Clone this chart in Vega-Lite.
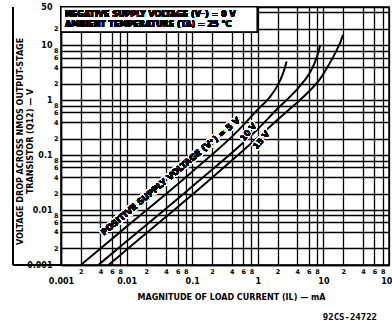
{
  "$schema": "https://vega.github.io/schema/vega-lite/v6.json",
  "width": 328,
  "height": 258,
  "autosize": {"type": "none"},
  "padding": {"left": 61, "top": 7, "right": 3, "bottom": 56},
  "background": "white",
  "title": {"text": "92CS-24722", "orient": "bottom", "anchor": "end", "frame": "group", "font": "DejaVu Sans Mono", "fontSize": 9, "fontWeight": "bold", "color": "black", "offset": 12, "dx": -12},
  "config": {
    "font": "DejaVu Sans",
    "view": {"stroke": "black", "strokeWidth": 1.5},
    "axis": {
      "grid": true, "gridColor": "black", "gridWidth": 1.3,
      "ticks": false,
      "domainColor": "black", "domainWidth": 1.5,
      "labelFont": "DejaVu Sans", "labelFontWeight": "bold", "labelColor": "black",
      "labelOverlap": false, "labelFlush": false, "labelBound": false,
      "titleFont": "DejaVu Sans", "titleFontWeight": "bold", "titleColor": "black", "titleFontSize": 8
    }
  },
  "data": {"values": [
    {"series": "5 V", "current": 0.002, "voltage": 0.001},
    {"series": "5 V", "current": 0.01, "voltage": 0.005},
    {"series": "5 V", "current": 0.1, "voltage": 0.05},
    {"series": "5 V", "current": 0.5, "voltage": 0.28},
    {"series": "5 V", "current": 1.0, "voltage": 0.68},
    {"series": "5 V", "current": 1.5, "voltage": 1.12},
    {"series": "5 V", "current": 2.0, "voltage": 1.85},
    {"series": "5 V", "current": 2.4, "voltage": 3.0},
    {"series": "5 V", "current": 2.6, "voltage": 4.0},
    {"series": "5 V", "current": 2.75, "voltage": 5.1},
    {"series": "10 V", "current": 0.0037, "voltage": 0.001},
    {"series": "10 V", "current": 0.01, "voltage": 0.0027},
    {"series": "10 V", "current": 0.1, "voltage": 0.027},
    {"series": "10 V", "current": 1.0, "voltage": 0.3},
    {"series": "10 V", "current": 2.0, "voltage": 0.7},
    {"series": "10 V", "current": 3.0, "voltage": 1.12},
    {"series": "10 V", "current": 4.0, "voltage": 1.6},
    {"series": "10 V", "current": 5.0, "voltage": 2.2},
    {"series": "10 V", "current": 6.25, "voltage": 3.2},
    {"series": "10 V", "current": 7.3, "voltage": 4.7},
    {"series": "10 V", "current": 8.0, "voltage": 6.3},
    {"series": "10 V", "current": 8.5, "voltage": 8.0},
    {"series": "10 V", "current": 8.9, "voltage": 10.0},
    {"series": "15 V", "current": 0.0053, "voltage": 0.001},
    {"series": "15 V", "current": 0.01, "voltage": 0.0019},
    {"series": "15 V", "current": 0.1, "voltage": 0.019},
    {"series": "15 V", "current": 1.0, "voltage": 0.21},
    {"series": "15 V", "current": 2.0, "voltage": 0.44},
    {"series": "15 V", "current": 3.1, "voltage": 0.7},
    {"series": "15 V", "current": 5.5, "voltage": 1.3},
    {"series": "15 V", "current": 8.9, "voltage": 2.45},
    {"series": "15 V", "current": 11.5, "voltage": 4.0},
    {"series": "15 V", "current": 13.4, "voltage": 5.5},
    {"series": "15 V", "current": 16, "voltage": 8.3},
    {"series": "15 V", "current": 18, "voltage": 11.1},
    {"series": "15 V", "current": 19.8, "voltage": 15.5}
  ]},
  "layer": [
    {
      "mark": {"type": "line", "color": "black", "strokeWidth": 2, "interpolate": "monotone"},
      "encoding": {
        "x": {
          "field": "current", "type": "quantitative",
          "scale": {"type": "log", "domain": [0.001, 100]},
          "axis": {
            "values": [0.001,0.002,0.004,0.006,0.008,0.01,0.02,0.04,0.06,0.08,0.1,0.2,0.4,0.6,0.8,1,2,4,6,8,10,20,40,60,80,100],
            "labelExpr": "abs(log(datum.value)/LN10 - round(log(datum.value)/LN10)) < 0.001 ? format(datum.value, '~g') : '' + round(datum.value / pow(10, floor(log(datum.value)/LN10 + 0.000001)))",
            "labelFontSize": {"condition": {"test": "abs(log(datum.value)/LN10 - round(log(datum.value)/LN10)) < 0.001", "value": 8}, "value": 6.5},
            "labelPadding": {"condition": {"test": "abs(log(datum.value)/LN10 - round(log(datum.value)/LN10)) < 0.001", "value": 12}, "value": 3},
            "labelBaseline": "top",
            "title": "MAGNITUDE OF LOAD CURRENT (IL) — mA",
            "titleX": 170, "titleY": 32, "titleAlign": "center", "titleBaseline": "middle"
          }
        },
        "y": {
          "field": "voltage", "type": "quantitative",
          "scale": {"type": "log", "domain": [0.001, 50]},
          "axis": {
            "values": [0.001,0.002,0.004,0.006,0.008,0.01,0.02,0.04,0.06,0.08,0.1,0.2,0.4,0.6,0.8,1,2,4,6,8,10,20,40,50],
            "labelExpr": "datum.value == 40 ? '' : datum.value == 50 ? '50' : abs(log(datum.value)/LN10 - round(log(datum.value)/LN10)) < 0.001 ? format(datum.value, '~g') : '' + round(datum.value / pow(10, floor(log(datum.value)/LN10 + 0.000001)))",
            "labelFontSize": {"condition": {"test": "datum.value == 50 || abs(log(datum.value)/LN10 - round(log(datum.value)/LN10)) < 0.001", "value": 8}, "value": 6.5},
            "labelPadding": {"condition": {"test": "datum.value == 50 || abs(log(datum.value)/LN10 - round(log(datum.value)/LN10)) < 0.001", "value": 9}, "value": 3},
            "labelAlign": "right", "labelBaseline": "middle",
            "title": ["VOLTAGE DROP ACROSS NMOS OUTPUT-STAGE", "TRANSISTOR (Q12) — V"],
            "titleX": -45, "titleY": 134, "titleAngle": 270, "titleAlign": "center", "titleBaseline": "top", "titleLineHeight": 10
          }
        },
        "detail": {"field": "series"}
      }
    },
    {
      "mark": {"type": "rule", "color": "black", "strokeWidth": 1.5},
      "encoding": {
        "x": {"datum": 0.0001855, "type": "quantitative", "scale": {"type": "log", "domain": [0.001, 100]}},
        "y": {"datum": 0.001, "type": "quantitative", "scale": {"type": "log", "domain": [0.001, 50]}},
        "y2": {"datum": 50}
      }
    },
    {
      "mark": {"type": "rule", "color": "black", "strokeWidth": 1.5},
      "encoding": {
        "x": {"datum": 0.0001855, "type": "quantitative", "scale": {"type": "log", "domain": [0.001, 100]}},
        "x2": {"datum": 0.001},
        "y": {"datum": 0.001, "type": "quantitative", "scale": {"type": "log", "domain": [0.001, 50]}}
      }
    },
    {
      "mark": {"type": "rect", "fill": "white", "stroke": "black", "strokeWidth": 1.2},
      "encoding": {
        "x": {"datum": 0.001, "type": "quantitative", "scale": {"type": "log", "domain": [0.001, 100]}},
        "x2": {"datum": 0.973},
        "y": {"datum": 50, "type": "quantitative", "scale": {"type": "log", "domain": [0.001, 50]}},
        "y2": {"datum": 17.7}
      }
    },
    {
      "mark": {"type": "text", "text": "NEGATIVE SUPPLY VOLTAGE (V⁻) = 0 V", "align": "left", "baseline": "middle", "fontSize": 8, "fontWeight": "bold", "color": "black"},
      "encoding": {
        "x": {"datum": 0.00115, "type": "quantitative", "scale": {"type": "log", "domain": [0.001, 100]}},
        "y": {"datum": 36.2, "type": "quantitative", "scale": {"type": "log", "domain": [0.001, 50]}}
      }
    },
    {
      "mark": {"type": "text", "text": "AMBIENT TEMPERATURE (TA) = 25 °C", "align": "left", "baseline": "middle", "fontSize": 8, "fontWeight": "bold", "color": "black"},
      "encoding": {
        "x": {"datum": 0.00115, "type": "quantitative", "scale": {"type": "log", "domain": [0.001, 100]}},
        "y": {"datum": 23.8, "type": "quantitative", "scale": {"type": "log", "domain": [0.001, 50]}}
      }
    },
    {
      "mark": {"type": "text", "text": "POSITIVE SUPPLY VOLTAGE (V⁺) = 5 V", "align": "left", "baseline": "alphabetic", "angle": 320, "fontSize": 8.5, "fontWeight": "bold", "color": "white", "stroke": "white", "strokeWidth": 3},
      "encoding": {
        "x": {"datum": 0.00452, "type": "quantitative", "scale": {"type": "log", "domain": [0.001, 100]}},
        "y": {"datum": 0.0034, "type": "quantitative", "scale": {"type": "log", "domain": [0.001, 50]}}
      }
    },
    {
      "mark": {"type": "text", "text": "POSITIVE SUPPLY VOLTAGE (V⁺) = 5 V", "align": "left", "baseline": "alphabetic", "angle": 320, "fontSize": 8.5, "fontWeight": "bold", "color": "black"},
      "encoding": {
        "x": {"datum": 0.00452, "type": "quantitative", "scale": {"type": "log", "domain": [0.001, 100]}},
        "y": {"datum": 0.0034, "type": "quantitative", "scale": {"type": "log", "domain": [0.001, 50]}}
      }
    },
    {
      "mark": {"type": "text", "text": "10 V", "align": "center", "baseline": "middle", "angle": 310, "fontSize": 8, "fontWeight": "bold", "color": "white", "stroke": "white", "strokeWidth": 2.5},
      "encoding": {
        "x": {"datum": 0.73, "type": "quantitative", "scale": {"type": "log", "domain": [0.001, 100]}},
        "y": {"datum": 0.26, "type": "quantitative", "scale": {"type": "log", "domain": [0.001, 50]}}
      }
    },
    {
      "mark": {"type": "text", "text": "10 V", "align": "center", "baseline": "middle", "angle": 310, "fontSize": 8, "fontWeight": "bold", "color": "black"},
      "encoding": {
        "x": {"datum": 0.73, "type": "quantitative", "scale": {"type": "log", "domain": [0.001, 100]}},
        "y": {"datum": 0.26, "type": "quantitative", "scale": {"type": "log", "domain": [0.001, 50]}}
      }
    },
    {
      "mark": {"type": "text", "text": "15 V", "align": "center", "baseline": "middle", "angle": 310, "fontSize": 8, "fontWeight": "bold", "color": "white", "stroke": "white", "strokeWidth": 2.5},
      "encoding": {
        "x": {"datum": 1.15, "type": "quantitative", "scale": {"type": "log", "domain": [0.001, 100]}},
        "y": {"datum": 0.185, "type": "quantitative", "scale": {"type": "log", "domain": [0.001, 50]}}
      }
    },
    {
      "mark": {"type": "text", "text": "15 V", "align": "center", "baseline": "middle", "angle": 310, "fontSize": 8, "fontWeight": "bold", "color": "black"},
      "encoding": {
        "x": {"datum": 1.15, "type": "quantitative", "scale": {"type": "log", "domain": [0.001, 100]}},
        "y": {"datum": 0.185, "type": "quantitative", "scale": {"type": "log", "domain": [0.001, 50]}}
      }
    }
  ]
}
